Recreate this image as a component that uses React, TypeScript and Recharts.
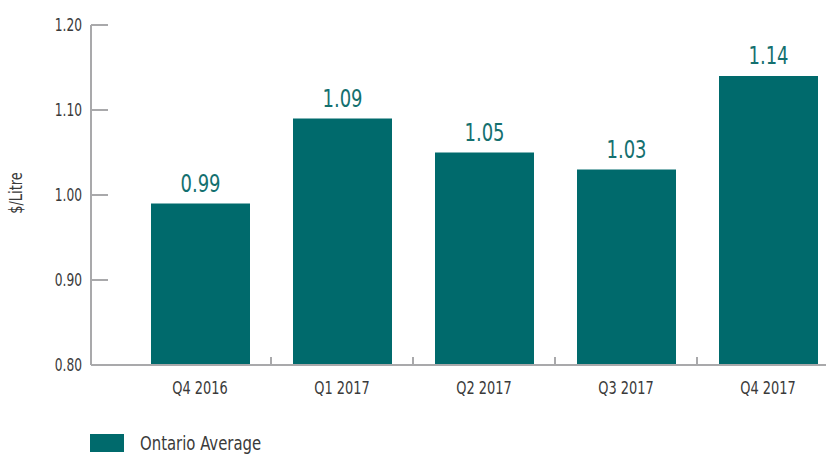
import React from 'react';
import { BarChart, Bar, XAxis, YAxis, LabelList, Legend } from 'recharts';

const quarters = ['Q4 2016', 'Q1 2017', 'Q2 2017', 'Q3 2017', 'Q4 2017'];
const ontarioAverage = [0.99, 1.09, 1.05, 1.03, 1.14];
const yTicks = [0.8, 0.9, 1.0, 1.1, 1.2];

const data = quarters.map((q, i) => ({ quarter: q, value: ontarioAverage[i] }));

const FONT = '"DejaVu Sans Condensed", "Liberation Sans Narrow", sans-serif';
const SX = 0.8; // squeeze the glyphs a bit more to get close to the narrow face
const TEAL = '#006a6c';
const LABEL = '#14706f';
const AXIS = '#a9a9ab';
const TEXT = '#3a3a3a';

const CHART_W = 839;
const Y_AXIS_W = 91;
const X_PAD_LEFT = 38;
const BAND = (CHART_W - Y_AXIS_W - X_PAD_LEFT) / quarters.length;

const CText = ({ x, y, anchor = 'middle', size, fill = TEXT, rotate = 0, children }: any) => (
    <text
        x={0}
        y={0}
        transform={`translate(${x},${y}) rotate(${rotate}) scale(${SX},1)`}
        textAnchor={anchor}
        fill={fill}
        fontSize={size}
        fontFamily={FONT}
    >
        {children}
    </text>
);

const YTick = (props: any) => {
    const { x, y, payload } = props;
    const axisX = x + 9;
    return (
        <g>
            <line x1={axisX} y1={y} x2={axisX + 17} y2={y} stroke={AXIS} strokeWidth={2} />
            <CText x={x} y={y + 6} anchor="end" size={17}>
                {Number(payload.value).toFixed(2)}
            </CText>
        </g>
    );
};

const XTick = (props: any) => {
    const { x, y, payload } = props;
    const axisY = y - 17;
    return (
        <g>
            <line
                x1={x + BAND / 2}
                y1={axisY - 8}
                x2={x + BAND / 2}
                y2={axisY}
                stroke={AXIS}
                strokeWidth={2}
            />
            <CText x={x} y={axisY + 29} size={18}>
                {payload.value}
            </CText>
        </g>
    );
};

const BarLabel = (props: any) => {
    const { x, y, width, value } = props;
    return (
        <CText x={x + width / 2} y={y - 12} size={25} fill={LABEL}>
            {Number(value).toFixed(2)}
        </CText>
    );
};

const LegendContent = () => (
    <div style={{ display: 'flex', alignItems: 'center', fontFamily: FONT }}>
        <span style={{ display: 'inline-block', width: 34, height: 18, background: TEAL }} />
        <span
            style={{
                display: 'inline-block',
                marginLeft: 16,
                fontSize: 19,
                color: TEXT,
                transform: `scaleX(${SX + 0.07})`,
                transformOrigin: 'left center',
                whiteSpace: 'nowrap',
            }}
        >
            Ontario Average
        </span>
    </div>
);

const App = () => {
    return (
        <div
            style={{
                position: 'absolute',
                left: 0,
                top: 0,
                width: 826,
                height: 456,
                overflow: 'hidden',
                background: '#fff',
            }}
        >
            <BarChart
                width={CHART_W}
                height={456}
                data={data}
                margin={{ top: 25, right: 0, left: 0, bottom: 0 }}
            >
                <XAxis
                    dataKey="quarter"
                    height={91}
                    padding={{ left: X_PAD_LEFT, right: 0 }}
                    stroke={AXIS}
                    strokeWidth={2}
                    tickLine={false}
                    tickSize={0}
                    tickMargin={17}
                    tick={<XTick />}
                    interval={0}
                />
                <YAxis
                    width={Y_AXIS_W}
                    domain={[0.8, 1.2]}
                    ticks={yTicks}
                    stroke={AXIS}
                    strokeWidth={2}
                    tickLine={false}
                    tickSize={0}
                    tickMargin={9}
                    tick={<YTick />}
                    allowDataOverflow
                    label={{
                        content: (p: any) => {
                            const vb = p.viewBox;
                            return (
                                <CText x={vb.x + 22} y={vb.y + vb.height / 2 - 2} rotate={-90} size={18}>
                                    $/Litre
                                </CText>
                            );
                        },
                    }}
                />
                <Legend
                    layout="vertical"
                    align="center"
                    verticalAlign="middle"
                    content={<LegendContent />}
                    wrapperStyle={{ left: 90, top: 432, width: 300 }}
                />
                <Bar dataKey="value" fill={TEAL} barSize={99} isAnimationActive={false}>
                    <LabelList dataKey="value" content={<BarLabel />} />
                </Bar>
            </BarChart>
        </div>
    );
};

export default App;
